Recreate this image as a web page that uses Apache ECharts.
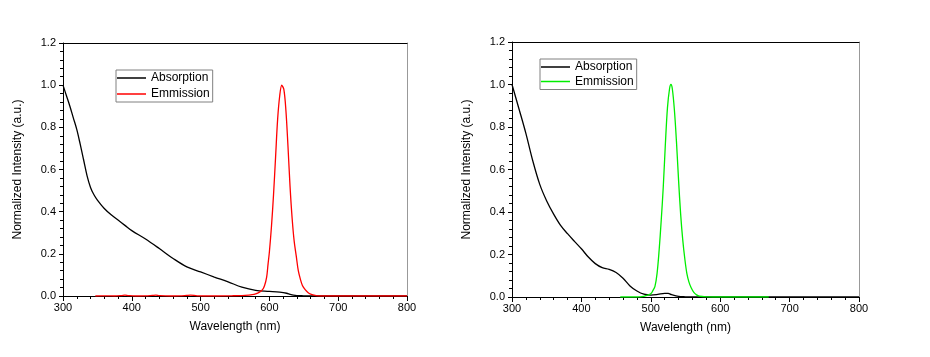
<!DOCTYPE html>
<html>
<head>
<meta charset="utf-8">
<script src="https://cdn.jsdelivr.net/npm/echarts@6/dist/echarts.min.js"></script>
<style>
html,body{margin:0;padding:0;background:#fff;}
#c{width:930px;height:357px;}
</style>
</head>
<body>
<div id="c"></div>
<script>
// ---- data ----
var xTicks = [300, 400, 500, 600, 700, 800];
var yTicks = [0.0, 0.2, 0.4, 0.6, 0.8, 1.0, 1.2];
var legendNames = ['Absorption', 'Emmission'];

var leftAbsX = [300,305,310,315,320,325,330,335,340,345,350,360,370,380,390,400,420,440,460,480,500,520,540,560,580,600,615,625,630,635,640,650,660,700,800];
var leftAbsY = [1.0,0.95,0.90,0.845,0.79,0.72,0.645,0.57,0.515,0.48,0.455,0.415,0.385,0.36,0.335,0.31,0.27,0.225,0.178,0.138,0.114,0.09,0.067,0.042,0.027,0.022,0.018,0.013,0.008,0.004,0.002,0.001,0,0,0];

var leftEmX = [347,360,375,385,390,395,405,420,430,435,440,455,470,480,485,495,520,545,560,570,575,580,585,590,593,596,598,600,603,606,609,612,615,618,619,621,624,627,630,633,636,639,642,645,648,652,656,660,665,670,680,700,750,800];
var leftEmY = [0,0.001,0,0.002,0.004,0.002,0,0.001,0.003,0.004,0.002,0,0.001,0.003,0.004,0.001,0,0.001,0.002,0.004,0.006,0.01,0.017,0.03,0.05,0.09,0.15,0.21,0.33,0.48,0.66,0.84,0.95,1.0,1.0,0.98,0.88,0.71,0.52,0.37,0.26,0.19,0.12,0.08,0.05,0.03,0.017,0.009,0.004,0.001,0,0,0,0];

var rightAbsX = [300,310,320,330,340,350,360,370,380,390,400,410,420,430,440,450,460,470,480,490,500,510,520,525,530,540,550,560,800];
var rightAbsY = [1.0,0.886,0.77,0.64,0.53,0.452,0.39,0.337,0.298,0.262,0.227,0.188,0.157,0.138,0.130,0.115,0.088,0.052,0.028,0.013,0.009,0.012,0.017,0.017,0.011,0.003,0.001,0,0];

var rightEmX = [456,480,490,495,500,503,506,509,512,515,518,521,524,527,529,531,534,537,540,543,546,549,552,555,558,562,566,570,580,600,670];
var rightEmY = [0,0,0.003,0.008,0.015,0.03,0.05,0.11,0.22,0.36,0.52,0.72,0.89,0.98,1.0,0.98,0.88,0.73,0.55,0.39,0.27,0.18,0.11,0.07,0.045,0.022,0.01,0.004,0.001,0,0];

// ---- build ----
function zip(xs, ys){ var o=[]; for(var i=0;i<xs.length;i++){o.push([xs[i], ys[i]]);} return o; }
var FONT = '"Liberation Sans", Arial, sans-serif';
var xMin = xTicks[0], xMax = xTicks[xTicks.length-1], xInt = xTicks[1]-xTicks[0];
var yMin = yTicks[0], yMax = yTicks[yTicks.length-1], yInt = 0.2;

function bottomX(g){
  return {
    gridIndex: g, type: 'value', position: 'bottom', min: xMin, max: xMax, interval: xInt,
    axisLine: {show: true, onZero: false, lineStyle: {color: '#000', width: 1}},
    axisTick: {show: true, inside: false, length: 5, lineStyle: {color: '#000'}},
    minorTick: {show: true, splitNumber: 5, length: 3, lineStyle: {color: '#000'}},
    splitLine: {show: false},
    axisLabel: {fontFamily: FONT, fontSize: 11, color: '#000', margin: 6},
    name: 'Wavelength (nm)', nameLocation: 'middle', nameGap: 25,
    nameTextStyle: {fontFamily: FONT, fontSize: 12, color: '#000'}
  };
}
function topX(g){
  return {
    gridIndex: g, type: 'value', position: 'top', min: xMin, max: xMax,
    axisLine: {show: true, onZero: false, lineStyle: {color: '#000', width: 1}},
    axisTick: {show: false}, axisLabel: {show: false}, splitLine: {show: false}
  };
}
function leftY(g){
  return {
    gridIndex: g, type: 'value', position: 'left', min: yMin, max: yMax, interval: yInt,
    axisLine: {show: true, onZero: false, lineStyle: {color: '#000', width: 1}},
    axisTick: {show: true, inside: false, length: 4, lineStyle: {color: '#000'}},
    minorTick: {show: true, splitNumber: 5, length: 3, lineStyle: {color: '#000'}},
    splitLine: {show: false},
    axisLabel: {fontFamily: FONT, fontSize: 11, color: '#000', margin: 7,
      formatter: function(v){ return v.toFixed(1); }},
    name: 'Normalized Intensity (a.u.)', nameLocation: 'middle', nameGap: 39,
    nameTextStyle: {fontFamily: FONT, fontSize: 12, color: '#000'}
  };
}
function rightY(g){
  return {
    gridIndex: g, type: 'value', position: 'right', min: yMin, max: yMax,
    axisLine: {show: true, onZero: false, lineStyle: {color: '#999', width: 1}},
    axisTick: {show: false}, axisLabel: {show: false}, splitLine: {show: false}
  };
}
function lineSeries(name, xi, yi, data, color){
  return {
    name: name, type: 'line', xAxisIndex: xi, yAxisIndex: yi, data: data,
    symbol: 'none', smooth: 0.35, clip: true,
    color: color, lineStyle: {color: color, width: 1.3}, animation: false
  };
}
function legendFor(names, left, top, gap){
  return {
    orient: 'vertical', left: left, top: top, data: names,
    icon: 'rect', itemWidth: 29, itemHeight: 1.5, itemGap: gap,
    padding: [1, 3, 1, 1],
    borderColor: '#808080', borderWidth: 1, backgroundColor: '#fff',
    formatter: function(n){ return n.split('|')[0]; },
    textStyle: {fontFamily: FONT, fontSize: 12, color: '#000', lineHeight: 14},
    selectedMode: false
  };
}

var chart = echarts.init(document.getElementById('c'), null, {renderer: 'canvas'});
chart.setOption({
  backgroundColor: '#fff',
  animation: false,
  grid: [
    {left: 63, top: 43, width: 344, height: 253},
    {left: 512, top: 42, width: 347, height: 255}
  ],
  xAxis: [bottomX(0), topX(0), bottomX(1), topX(1)],
  yAxis: [leftY(0), rightY(0), leftY(1), rightY(1)],
  legend: [
    legendFor([legendNames[0] + '|L', legendNames[1] + '|L'], 116, 70, 2),
    legendFor([legendNames[0] + '|R', legendNames[1] + '|R'], 540, 59, 0.5)
  ],
  series: [
    lineSeries(legendNames[0] + '|L', 0, 0, zip(leftAbsX, leftAbsY), '#000000'),
    lineSeries(legendNames[1] + '|L', 0, 0, zip(leftEmX, leftEmY), '#ff0000'),
    lineSeries(legendNames[0] + '|R', 2, 2, zip(rightAbsX, rightAbsY), '#000000'),
    lineSeries(legendNames[1] + '|R', 2, 2, zip(rightEmX, rightEmY), '#00ee00')
  ]
});
</script>
</body>
</html>
